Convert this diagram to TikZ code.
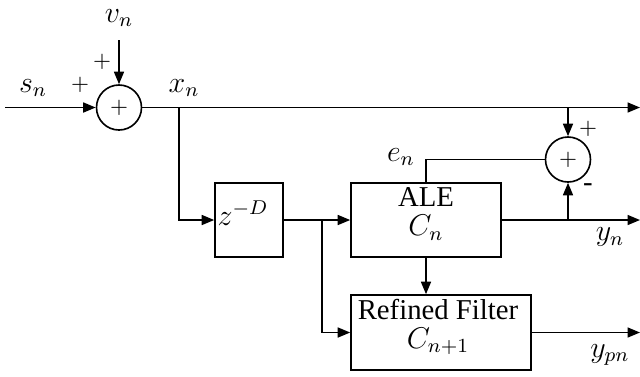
\documentclass[tikz,border=0pt]{standalone}
\usepackage{fontspec}
\setmainfont{Liberation Serif}
\usetikzlibrary{arrows.meta}
\begin{document}
\begin{tikzpicture}[x=0.4pt,y=-0.4pt,
  every node/.style={font=\fontsize{11.5}{11.5}\selectfont},
  wire/.style={line width=0.65pt},
  arr/.style={wire,-{Triangle[length=5pt,width=4pt]}},
  sumnode/.style={draw,line width=0.65pt,circle,minimum size=18pt,inner sep=0pt,font=\fontsize{9.5}{10}\selectfont},
  blk/.style={draw,line width=0.65pt,inner sep=0pt},
  pm/.style={inner sep=0pt,font=\fontsize{9.5}{10}\selectfont},
  lbl/.style={inner sep=0pt}]
\useasboundingbox (0,0) rectangle (640,376);
% summing junctions
\node[sumnode] (sumA) at (119,107.5) {$+$};
\node[sumnode] (sumB) at (568,159.5) {$+$};
% blocks
\node[blk,minimum width=27.2pt,minimum height=29.6pt] (zbox) at (249,220) {};
\node[blk,minimum width=60pt,minimum height=29.6pt] (ale) at (426,220) {};
\node[blk,minimum width=72pt,minimum height=30pt] (ref) at (441,332.5) {};
% texts
\node[lbl] (zt) at (243,213) {$z^{-D}$};
\node[lbl,align=center] (aleT) at (426,214) {ALE\\$C_n$};
\node[lbl,align=center] (refT) at (438,327) {Refined Filter\\$C_{n+1}$};
\node[lbl] (vn) at (119,18) {$v_n$};
\node[lbl] (sn) at (33,88) {$s_n$};
\node[lbl] (xn) at (184,88) {$x_n$};
\node[lbl] (en) at (401,157) {$e_n$};
\node[lbl] (yn) at (610,237) {$y_n$};
\node[lbl] (ypn) at (610,355) {$y_{pn}$};
\node[pm] (p1) at (102,62) {$+$};
\node[pm] (p2) at (80,85) {$+$};
\node[pm] (p3) at (588,129) {$+$};
\node[lbl] (m1) at (588,188) {-};
% coordinates
\coordinate (sin) at (5,107.5);
\coordinate (vin) at (119,40);
\coordinate (o1) at (640,107.5);
\coordinate (o2) at (640,220);
\coordinate (o3) at (640,332.5);
\coordinate (j1) at (179,107.5);
\coordinate (j2) at (322,220);
\coordinate (j3) at (568,220);
\coordinate (j4) at (568,107.5);
% connectors
\draw[arr] (sin) -- (sumA.west);
\draw[arr] (vin) -- (sumA.north);
\draw[arr] (sumA.east) -- (o1);
\draw[arr] (j1) |- (zbox.west);
\draw[arr] (zbox.east) -- (ale.west);
\draw[arr] (j2) |- (ref.west);
\draw[arr] (ale.east) -- (o2);
\draw[arr] (j3) -- (sumB.south);
\draw[arr] (j4) -- (sumB.north);
\draw[wire] (sumB.west) -| (ale.north);
\draw[arr] (ale.south) -- (ale.south |- ref.north);
\draw[arr] (ref.east) -- (o3);
\end{tikzpicture}
\end{document}
